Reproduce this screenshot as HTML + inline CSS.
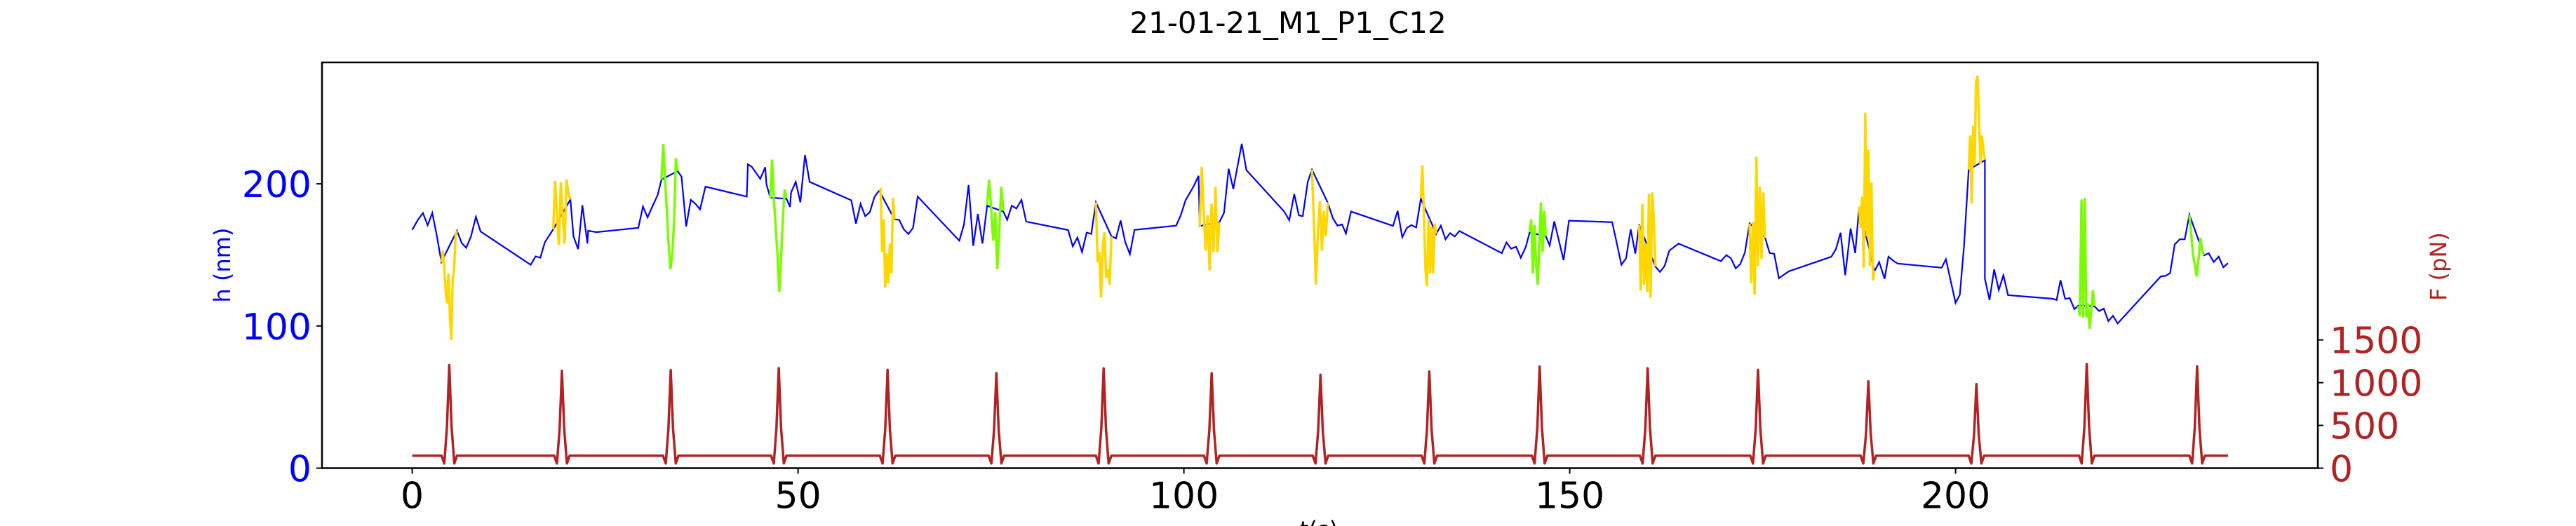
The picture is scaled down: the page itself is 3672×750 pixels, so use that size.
<!DOCTYPE html>
<html><head><meta charset="utf-8"><style>
html,body{margin:0;padding:0;background:#fff;}
svg{display:block;font-family:"DejaVu Sans","Liberation Sans",sans-serif;}
</style></head><body>
<svg id="chart" width="3672" height="750" viewBox="0 0 3672 750" xmlns="http://www.w3.org/2000/svg">
<text x="1836" y="47" font-size="42" text-anchor="middle" fill="#000">21-01-21_M1_P1_C12</text>
<g id="marks"></g>
<rect x="459" y="89" width="2845" height="578.5" fill="none" stroke="#000" stroke-width="2.5"/>
<g id="axes"></g>
<text transform="translate(328,378) rotate(-90)" font-size="32" text-anchor="middle" fill="#0000ff">h (nm)</text>
<text transform="translate(3487,380) rotate(-90)" font-size="32" text-anchor="middle" fill="#b22222">F (pN)</text>
<text x="1880" y="766" font-size="32" text-anchor="middle" fill="#000">t(s)</text>
</svg>
<script>
// ---- data ----
const blueT = [0,0.74,1.39,2.0,2.6,3.2,3.78,5.8,6.42,7.0,7.6,8.25,8.85,15.35,16.0,16.6,17.2,18.27,20.5,20.9,21.5,22.05,22.7,22.8,23.87,29.3,29.9,30.5,31.2,31.8,32.3,34.4,34.9,35.5,36.1,36.7,37.3,38,43.35,43.5,44,45.1,45.75,45.9,46.4,48.5,48.95,49.1,49.7,50.3,50.9,51.5,56.9,57.5,58.1,58.7,59.3,59.9,60.5,62.5,63.1,63.7,64.3,64.9,65.5,70.9,71.5,72.1,72.7,73.3,73.9,74.5,76.6,77.1,77.7,78.3,78.95,79.56,85,85.6,86.2,86.8,87.4,88,88.6,90.6,91.2,91.8,92.4,93,93.6,99,99.6,100.2,101.3,101.9,102.05,104.6,105.2,105.8,106.4,107.5,108.1,113,113.65,114.3,114.9,115.4,116.05,116.6,118.65,119.3,119.9,120.5,121,121.66,127.1,127.7,128.3,128.9,129.5,130.1,130.7,132.7,133.3,133.9,134.5,135.1,135.7,141.2,141.8,142.4,143.05,143.65,144.3,144.8,146.9,147.4,148,149.2,149.9,155.5,156,156.7,157.3,157.9,158.5,159,161.1,161.7,162.3,162.9,164.1,169.6,170.3,170.9,171.5,172.1,172.7,173.3,175.3,175.9,176.5,177.1,178.4,183.9,184.5,185.1,185.7,186.4,187,187.5,189.5,190.1,190.8,191.3,192,192.5,198.2,198.75,200,200.55,201.1,201.7,203.8,203.8,204.4,205,205.6,206.2,206.8,212.5,213.1,213.6,214.2,214.8,215.4,215.9,218,218.6,219.2,219.8,220.4,221,226.6,227.2,227.8,228.4,229.05,229.7,230.3,232.2,232.8,233.45,234.1,234.7,235.3];
const blueH = [167.6,174.7,179.5,170.9,179.5,163.2,145,167,158.3,155,162.7,176.8,166.5,143,149,148,159,168,189,163,154,185,158,167,166,169,184,176.4,185,192,203,209,205,170,188.7,186,182,198,191,213.7,212,203.5,211.7,199.7,190.3,189.5,183.7,194,201.4,187,220.3,201.4,188.4,172,185.9,177.2,180,190.7,195.3,175,174.7,168,164.7,169,191,160,171.4,199.2,156.4,178.8,158,184.6,180.5,174.7,184.6,182.6,188.7,173.4,167.5,156,162.2,152,165.7,164.8,187,163.2,161.6,174.2,159,150.5,167.6,170.6,178,188.2,198.6,205.6,170.3,173,179.6,210.6,196.4,228.2,209.6,180.5,174.4,192.8,177.8,177.2,201.4,210,186.6,175.9,170.6,171.4,165,180.5,170.4,181,162.4,169,171,169.3,189.5,164.8,170.6,161,165.3,162.9,166.8,151.2,158.8,154.3,155.8,148,155.5,165.7,163.2,156.6,173.6,146.3,174.1,173,160.7,143,147.6,168,150.9,171.4,141.8,138,142.3,153,157.9,145.6,149.9,147.6,140.5,143.5,151.7,172.2,162.4,151.4,150.7,133.6,138.5,148.7,154.1,165.6,135.7,168.6,151.3,183.7,138.5,145,133.2,148.8,145.6,143.9,141,147,116.3,122,156.6,210,216.6,133.2,118.3,139.8,125.3,135.7,121.7,119.2,118.3,132.2,119.1,119.6,111.8,114.3,113.8,110.5,112.2,103.4,107.2,101.8,134.9,135.2,137.2,157.4,161,161,178.3,149.7,151.2,145,148.8,141.3,144.2];

// highlighted oscillation segments
const segKind = ['y','y','g','g','y','g','y','y','y','y','g','y','y','y','y','g','g'];
const segStart = [3.78,18.27,32.3,46.4,60.5,74.5,88.6,102.05,116.6,130.7,144.8,159,173.3,187.5,201.7,215.9,230.3];
const segEnd = [5.8,20.5,34.4,48.5,62.5,76.6,90.6,104.6,118.65,132.7,146.9,161.1,175.3,189.5,203.8,218,232.2];
const segH = [
 [145,153,142,125,116,137,107,90,132,140,164,167],
 [168,202,178,157,201,176,158,203,193,189],
 [203,228,203,181,157,140,150,173,218,209],
 [190,217,190,170,150,124,148,176,196,190],
 [195,196,152,175,127,151,130,158,137,190,175],
 [185,203,183,160,180,140,167,198,181],
 [187,145,152,120,157,166,134,140,129,163],
 [170,212,181,153,178,139,186,152,198,152,173],
 [210,173,129,167,188,153,181,163,187],
 [190,213,180,140,128,175,137,170,137,172,165],
 [166,175,137,171,144,129,157,187,152,181,163],
 [171,125,186,129,158,124,193,120,194,176,142],
 [172,130,173,122,219,142,198,147,194,162],
 [184,169,191,141,250,163,224,142,201,132,139],
 [210,234,186,241,213,272,276,245,214,234,224,217],
 [114,107,189,106,190,106,116,98,111,125,114],
 [178,165,150,143,135,147,162,153,150]
];

// force trace
const peakT = [4.8,19.4,33.5,47.5,61.6,75.7,89.6,103.6,117.7,131.8,146.1,160.1,174.4,188.7,202.7,217.0,231.3];
const peakF = [1205,1139,1146,1170,1149,1111,1168,1111,1092,1130,1188,1168,1149,1015,982,1217,1190];
const baseF = 145;
const dipF = 55;
const forceStart = 0, forceEnd = 235.3;

const xTicks = [0,50,100,150,200];
const hTicks = [0,100,200];
const fTicks = [0,500,1000,1500];

// ---- scales ----
const X0=459, X1=3304, Y0=667.5, Y1=89;
const xS = t => 587.6 + 11*t;
const hS = h => Y0 - 2.027*h;
const fS = f => Y0 - 0.1219*f;
const NS='http://www.w3.org/2000/svg';
const marks=document.getElementById('marks');
const axes=document.getElementById('axes');
function mk(tag, attrs, parent){const e=document.createElementNS(NS,tag);for(const k in attrs)e.setAttribute(k,attrs[k]);parent.appendChild(e);return e;}

const defs=mk('defs',{},marks);
const cp=mk('clipPath',{id:'clip'},defs);
mk('rect',{x:X0,y:Y1,width:X1-X0,height:Y0-Y1},cp);
marks.setAttribute('clip-path','url(#clip)');

// force line
let fp=[[forceStart,baseF]];
peakT.forEach((tp,i)=>{
  fp.push([tp-1.0,baseF],[tp-0.65,dipF],[tp-0.3,peakF[i]*0.4],[tp,peakF[i]],[tp+0.3,peakF[i]*0.4],[tp+0.65,dipF],[tp+1.0,baseF]);
});
fp.push([forceEnd,baseF]);
const fl=mk('polyline',{points:fp.map(p=>xS(p[0]).toFixed(1)+','+fS(p[1]).toFixed(1)).join(' '),fill:'none',stroke:'#b22222','stroke-width':3.5,'stroke-linejoin':'round'},marks);



// blue height line
const bl=mk('polyline',{points:blueT.map((t,i)=>xS(t).toFixed(1)+','+hS(blueH[i]).toFixed(1)).join(' '),fill:'none',stroke:'#0000ff','stroke-width':2.2,'stroke-linejoin':'miter'},marks);



// colored segments
segH.forEach((arr,s)=>{
  const n=arr.length, t0=segStart[s], t1=segEnd[s];
  const pts=arr.map((h,i)=>{const t=t0+(t1-t0)*i/(n-1);return xS(t).toFixed(1)+','+hS(h).toFixed(1);}).join(' ');
  const pl=mk('polyline',{points:pts,fill:'none',stroke:segKind[s]==='y'?'#ffd700':'#7cfc00','stroke-width':3.5},marks);
  
  
});

// x ticks
xTicks.forEach(v=>{
  const x=xS(v);
  mk('line',{x1:x,x2:x,y1:Y0,y2:Y0+8,stroke:'#000','stroke-width':2},axes);
  const tx=mk('text',{x:x,y:Y0+57,'font-size':52,'text-anchor':'middle',fill:'#000'},axes);
  tx.textContent=v;
  
  
});
// left ticks
hTicks.forEach(v=>{
  const y=hS(v);
  mk('line',{x1:X0,x2:X0-8,y1:y,y2:y,stroke:'#000','stroke-width':2},axes);
  const tx=mk('text',{x:X0-15,y:y+19,'font-size':52,'text-anchor':'end',fill:'#0000ff'},axes);
  tx.textContent=v;
  
  
});
// right ticks
fTicks.forEach(v=>{
  const y=fS(v);
  mk('line',{x1:X1,x2:X1+8,y1:y,y2:y,stroke:'#000','stroke-width':2},axes);
  const tx=mk('text',{x:X1+17,y:y+19,'font-size':52,'text-anchor':'start',fill:'#b22222'},axes);
  tx.textContent=v;
  
  
});
</script>
</body></html>
